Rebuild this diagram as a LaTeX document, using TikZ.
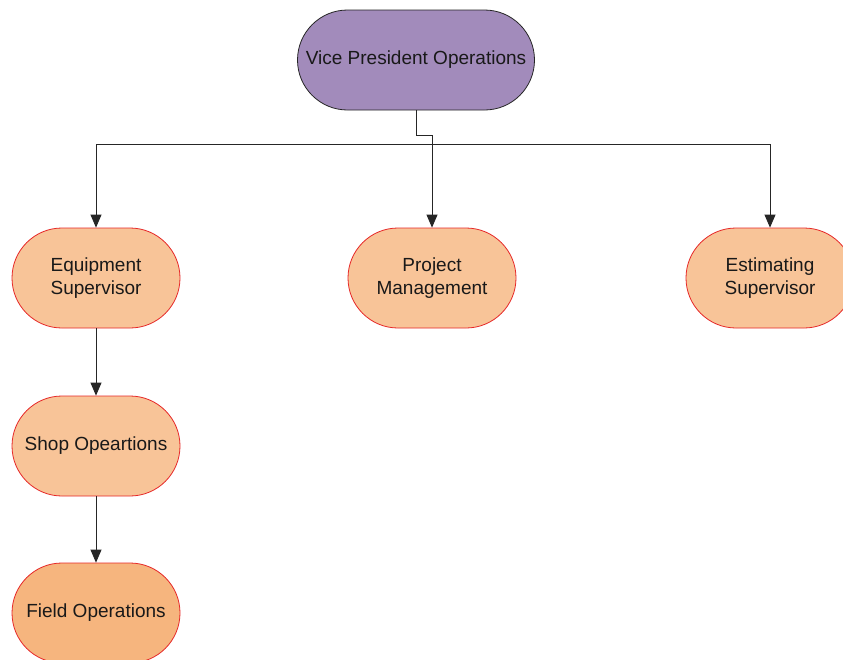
\documentclass[tikz,border=0pt]{standalone}
\usepackage{fontspec}
\setmainfont{Liberation Sans}
\usetikzlibrary{arrows.meta}
\definecolor{vpfill}{RGB}{162,139,187}
\definecolor{orfill}{RGB}{248,196,152}
\definecolor{fieldfill}{RGB}{246,181,126}
\definecolor{edgered}{RGB}{230,40,40}
\definecolor{txt}{RGB}{25,25,25}
\tikzset{
  box/.style={draw=edgered, line width=0.8pt, fill=orfill, rounded corners=50pt,
    minimum width=168pt, minimum height=100pt, inner sep=0pt, align=center,
    text=txt, font=\fontsize{19pt}{23pt}\selectfont},
  vpbox/.style={box, draw=black!85, fill=vpfill, minimum width=237pt},
  conn/.style={draw=black!85, line width=0.8pt, -{Triangle[width=11pt,length=13pt]}},
  plain/.style={draw=black!85, line width=0.8pt}
}
\begin{document}
\begin{tikzpicture}[x=1pt,y=-1pt]
\useasboundingbox (0,0) rectangle (843,659);
\fill[white] (0,0) rectangle (843,659);
\node[vpbox] (vp) at (416,60) {Vice President Operations};
\node[box] (eq) at (96,278) {Equipment\\Supervisor};
\node[box] (pm) at (432,278) {Project\\Management};
\node[box] (es) at (770,278) {Estimating\\Supervisor};
\node[box] (sh) at (96,446) {Shop Opeartions};
\node[box, fill=fieldfill] (fo) at (96,613) {Field Operations};
\coordinate (bend) at (416,135);
\coordinate (j) at (432,144);
\draw[conn] (vp.south) -- (bend) -| (pm.north);
\draw[conn] (j) -| (eq.north);
\draw[conn] (j) -| (es.north);
\draw[conn] (eq.south) -- (sh.north);
\draw[conn] (sh.south) -- (fo.north);
\end{tikzpicture}
\end{document}
